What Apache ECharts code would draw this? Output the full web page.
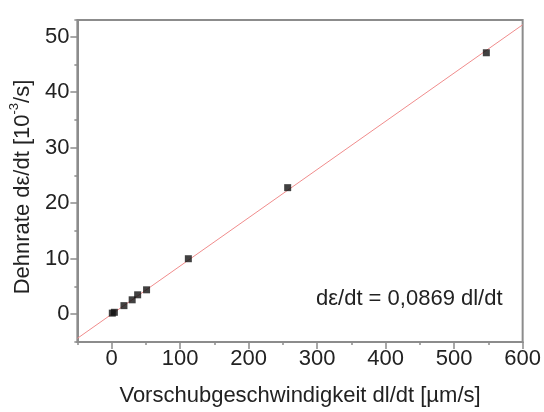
<!DOCTYPE html>
<html>
<head>
<meta charset="utf-8">
<script src="https://cdn.jsdelivr.net/npm/echarts@6/dist/echarts.min.js"></script>
<style>html,body{margin:0;padding:0;background:#fff}#c{width:544px;height:412px}</style>
</head>
<body>
<div id="c"></div>
<script>
// Measured data points (feed rate µm/s, strain rate 10^-3/s)
var feedRate = [1, 4, 18, 30, 38, 51, 112, 257, 547];
var strainRate = [0.2, 0.35, 1.55, 2.6, 3.5, 4.4, 10.0, 22.8, 47.1];
// Fit line: dε/dt = 0.0869 dl/dt
var slope = 0.0869;
var fitX = [-50, 600];
var xTicks = [0, 100, 200, 300, 400, 500, 600];
var yTicks = [0, 10, 20, 30, 40, 50];

var font = 'Liberation Sans, Arial, sans-serif';
var axisColor = '#8c8c8c';
var chart = echarts.init(document.getElementById('c'));
var points = feedRate.map(function (x, i) { return [x, strainRate[i]]; });
var fit = fitX.map(function (x) { return [x, slope * x]; });

function baseAxis(min, max) {
  return {
    type: 'value', min: min, max: max, interval: (min === -50 ? 50 : 5),
    axisLine: { onZero: false, lineStyle: { color: axisColor, width: 2 } },
    splitLine: { show: false }
  };
}

var x0 = baseAxis(-50, 600);
x0.name = 'Vorschubgeschwindigkeit dl/dt [µm/s]';
x0.nameLocation = 'middle';
x0.nameGap = 43;
x0.nameTextStyle = { fontFamily: font, fontSize: 22, color: '#222' };
x0.axisTick = { show: true, length: 3, lineStyle: { color: axisColor, width: 1.5 } };
x0.axisLabel = { fontFamily: font, fontSize: 22, color: '#222', margin: 6,
  formatter: function (v) { return xTicks.indexOf(v) >= 0 ? String(v) : ''; } };

var x1 = baseAxis(-50, 600);
x1.position = 'bottom';
x1.axisLine = { show: false, onZero: false };
x1.axisTick = { show: true, length: 7, customValues: xTicks, lineStyle: { color: axisColor, width: 1.5 } };
x1.axisLabel = { show: false };

var y0 = baseAxis(-5, 53);
y0.name = '{a|Dehnrate dε/dt [10}{s|-3}{a|/s]}';
y0.nameLocation = 'middle';
y0.nameGap = 42;
y0.nameTextStyle = {
  fontFamily: font, fontSize: 22, color: '#222', padding: [0, 12, 0, 0],
  rich: {
    a: { fontFamily: font, fontSize: 22, color: '#222', lineHeight: 26, verticalAlign: 'bottom' },
    s: { fontFamily: font, fontSize: 13, color: '#222', lineHeight: 26, verticalAlign: 'top', padding: [0, 0, 9, 0] }
  }
};
y0.axisTick = { show: true, length: 3, lineStyle: { color: axisColor, width: 1.5 } };
y0.axisLabel = { fontFamily: font, fontSize: 22, color: '#222', margin: 8,
  formatter: function (v) { return yTicks.indexOf(v) >= 0 ? String(v) : ''; } };

var y1 = baseAxis(-5, 53);
y1.position = 'left';
y1.axisLine = { show: false, onZero: false };
y1.axisTick = { show: true, length: 7, customValues: yTicks, lineStyle: { color: axisColor, width: 1.5 } };
y1.axisLabel = { show: false };

chart.setOption({
  animation: false,
  grid: { left: 77, right: 21, top: 20, bottom: 69, show: true, borderColor: axisColor, borderWidth: 2, backgroundColor: 'transparent' },
  xAxis: [x0, x1],
  yAxis: [y0, y1],
  series: [
    {
      type: 'line', data: fit, symbol: 'none', silent: true,
      lineStyle: { color: '#f08c8c', width: 1 }, z: 2
    },
    {
      type: 'scatter', data: points, symbol: 'rect', symbolSize: 7,
      itemStyle: { color: '#111' }, z: 3
    }
  ],
  graphic: [
    { type: 'text', left: 316, top: 288, style: { text: 'dε/dt = 0,0869 dl/dt', font: '22px ' + font, fill: '#222' } }
  ]
});
</script>
</body>
</html>
